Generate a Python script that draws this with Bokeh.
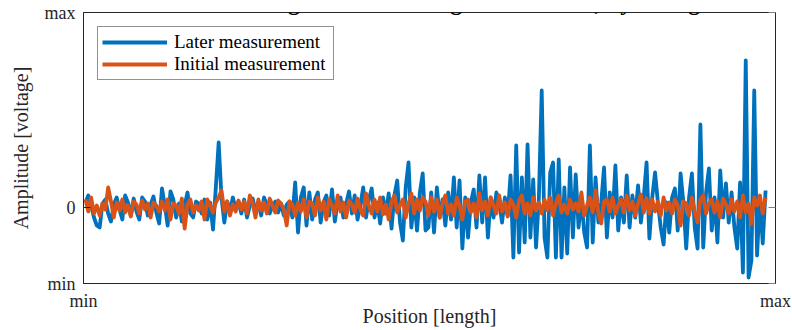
import numpy as np
from bokeh.plotting import figure
from bokeh.models import Range1d, FixedTicker, LinearAxis, Label
from bokeh.embed import file_html
from bokeh.resources import INLINE

# ---- data (amplitude in arbitrary units) ----
later_a = [5, 12, 2, -10, -18, -20, 4, 8, -6, -14, 3, 10, -2, -12, 12, 5, -8, 9, -4, -12,
           10, 6, -8, 3, 11, -5, -16, 19, 2, -18, 16, 8, -10, 4, -14, 2, 15, -6, -10, 6]
later_b = [4, -6, 8, -12, 5, -22, 20, 65, 10, -15, 6, -4, 10, -2, 6, -6, 8, -10, 2, 9,
           -4, 5, -8, 10, 3, -6, 2, 6, -5, 4, -8, 3, 6, -10, 25, -25, 10, 20, -18, 15]
later_c = [-12, 8, 15, -15, 5, 12, -8, 18, -14, 6, 10, -10, 4, 16, -6, 12, -12, 2, 20, -10,
           8, 19, -10, 5, -16, 10, -6, 14, -21, 12, 27, -15, -33, 20, 45, -20, 10, -23, 15, 34]
later_d = [-23, -20, 15, -25, 20, -10, 8, -18, 15, -12, 30, -20, 27, -41, 10, -30, 5, 18, -20, 32,
           -15, 30, -30, 10, -10, 15, 5, -15, 10, -8, 32, -50, 62, -45, 30, -35, 63, -30, 28, -40]
later_e = [10, 117, -30, -50, 35, 45, -50, 48, -50, 20, -46, 40, -30, 33, -20, 10, -25, -40, 62, -35,
           30, -15, 5, 40, -30, 15, -10, 42, -23, 10, -15, 32, -20, 12, -10, 22, -15, 10, 45, -31]
later_f = [10, 35, 5, -20, -37, 5, -25, 10, 19, -23, 34, 5, -41, 10, 34, -20, -41, 83, -40, 15,
           39, -23, 10, -35, 37, -10, 24, -15, 15, -20, -41, 25, -65, 147, -70, -53, 117, -48, 10, -36, 17]

initial_a = [8, -4, 10, -6, 2, -8, 4, -2, 20, 6, -10, 5, -3, 8, -5, 2, -9, 6, 3, -6,
             7, -2, 4, -10, 5, 2, -4, 6, -3, 8, -12, 4, 2, -6, 9, -21, 3, 8, -5, 2]
initial_b = [-3, 6, -12, 8, 2, -5, 5, 10, 17, -4, 6, -8, 3, -4, 7, -2, 6, -6, 12, 4,
             -10, 8, -3, 5, -6, 9, 2, -5, 7, 4, -2, -18, 6, 3, -8, 5, -4, 8, -10, 6]
initial_c = [4, -8, 10, -3, 6, -12, 8, 2, -6, 12, -4, 5, -10, 7, 3, -5, 9, -2, -8, 14,
             2, -6, 8, -4, 10, -7, 3, -12, 6, 12, -5, 2, 8, -10, 4, 14, -6, 8, -3, 10]
initial_d = [6, -8, 10, -4, 8, -10, 4, 12, -6, 3, -8, 10, 2, -12, 6, 8, -5, 4, -10, 14,
             -3, 6, -8, 10, 2, -6, 12, -4, 5, -9, 8, 3, -10, 7, 12, -6, 4, -8, 10, -3]
initial_e = [5, -6, 8, -3, 10, -8, 4, 12, -5, 3, -6, 8, -2, 4, -4, 15, -8, 2, 10, -5,
             17, -6, -16, 6, 8, -4, 10, -6, 2, 8, -5, 12, -3, 6, -8, 4, 13, -5, 9, -6]
initial_f = [8, -4, 6, -8, 10, -3, 5, -6, 8, 2, -18, 6, 4, -8, 10, -4, -15, 8, 12, -6,
             4, 8, -5, 6, -10, 9, 3, -6, 8, -4, 6, -10, 12, -5, 4, -16, 10, 2, 12, -6, 10]

later = later_a + later_b + later_c + later_d + later_e + later_f
initial = initial_a + initial_b + initial_c + initial_d + initial_e + initial_f
position = list(range(len(later)))

x_ticks = [-0.7, 243.5]
x_tick_labels = ["min", "max"]
y_ticks = [-76, 0, 195]
y_tick_labels = ["min", "0", "max"]

title_text = "Measurements conducted using the Electromagnetic method, by a magnetic sensor"
x_label = "Position [length]"
y_label = "Amplitude [voltage]"

BLUE = "#0072BD"
ORANGE = "#D95319"
DARK = "#262626"
FONT = "Liberation Serif"

p = figure(width=792, height=330, output_backend="svg", toolbar_location=None,
           x_range=Range1d(x_ticks[0], x_ticks[-1]), y_range=Range1d(y_ticks[0], y_ticks[-1]),
           min_border_left=83, min_border_right=17, min_border_top=12, min_border_bottom=47)
p.grid.visible = False
p.outline_line_color = DARK
p.outline_line_alpha = 1
p.outline_line_width = 1
p.background_fill_color = "white"
p.border_fill_color = "white"

p.line(position, later, color=BLUE, line_width=3.8, line_join="round", legend_label="Later measurement")
p.line(position, initial, color=ORANGE, line_width=3.8, line_join="round", legend_label="Initial measurement")

xa = p.xaxis[0]
xa.ticker = FixedTicker(ticks=x_ticks)
xa.major_label_overrides = dict(zip(x_ticks, x_tick_labels))
xa.axis_label = x_label
xa.major_label_standoff = 7
xa.axis_label_standoff = -9

ya = p.yaxis[0]
ya.ticker = FixedTicker(ticks=y_ticks)
ya.major_label_overrides = dict(zip(y_ticks, y_tick_labels))
ya.axis_label = y_label
ya.major_label_standoff = 8
ya.axis_label_standoff = 10

for ax in (xa, ya):
    ax.axis_line_color = DARK
    ax.major_tick_in = 7
    ax.major_tick_out = 0
    ax.minor_tick_in = 0
    ax.minor_tick_out = 0
    ax.major_tick_line_color = DARK
    ax.major_label_text_font = FONT
    ax.major_label_text_font_size = "18px"
    ax.major_label_text_color = DARK
    ax.axis_label_text_font = FONT
    ax.axis_label_text_font_size = "20px"
    ax.axis_label_text_font_style = "normal"
    ax.axis_label_text_color = DARK

ra = LinearAxis(ticker=FixedTicker(ticks=y_ticks),
                major_label_overrides={t: "" for t in y_ticks},
                axis_line_color=None, major_tick_in=7, major_tick_out=0,
                minor_tick_in=0, minor_tick_out=0,
                major_tick_line_color="#7f7f7f", major_label_standoff=0,
                major_label_text_font_size="1px")
p.add_layout(ra, "right")

# figure title, mostly cut off at the top edge as in the reference
p.add_layout(Label(x=-38, y=206, text=title_text, text_font=FONT, text_font_size="24px",
                   text_font_style="bold", text_color="black", text_baseline="alphabetic",
                   text_align="left"))

lg = p.legend[0]
lg.location = "top_left"
lg.margin = 14
lg.border_line_color = DARK
lg.border_line_width = 1
lg.background_fill_color = "white"
lg.background_fill_alpha = 1
lg.label_text_font = FONT
lg.label_text_font_size = "19px"
lg.label_text_color = "black"
lg.glyph_width = 65
lg.glyph_height = 20
lg.label_height = 20
lg.label_width = 155
lg.label_standoff = 7
lg.padding = 4
lg.spacing = 0

open("out.html", "w").write(file_html(p, INLINE))
